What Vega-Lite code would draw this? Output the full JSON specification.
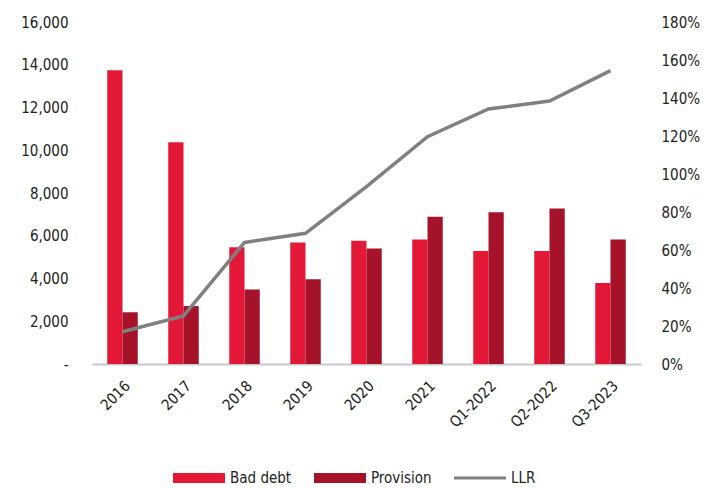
{
  "$schema": "https://vega.github.io/schema/vega-lite/v6.json",
  "autosize": "none",
  "width": 549,
  "height": 342,
  "padding": {"left": 92, "top": 22, "right": 75, "bottom": 124},
  "background": "white",
  "config": {
    "view": {"stroke": null},
    "font": "DejaVu Sans Condensed, Liberation Sans, sans-serif",
    "axis": {"labelFont": "DejaVu Sans Condensed, Liberation Sans, sans-serif", "labelFontSize": 15, "labelColor": "#222222", "grid": false, "ticks": false, "domain": false, "title": null}
  },
  "data": {
    "values": [
      {"cat": "2016", "series": "Bad debt", "value": 13740},
      {"cat": "2016", "series": "Provision", "value": 2420},
      {"cat": "2016", "series": "LLR", "value": 0.17},
      {"cat": "2017", "series": "Bad debt", "value": 10370},
      {"cat": "2017", "series": "Provision", "value": 2710},
      {"cat": "2017", "series": "LLR", "value": 0.253},
      {"cat": "2018", "series": "Bad debt", "value": 5460},
      {"cat": "2018", "series": "Provision", "value": 3490},
      {"cat": "2018", "series": "LLR", "value": 0.64},
      {"cat": "2019", "series": "Bad debt", "value": 5690},
      {"cat": "2019", "series": "Provision", "value": 3960},
      {"cat": "2019", "series": "LLR", "value": 0.688},
      {"cat": "2020", "series": "Bad debt", "value": 5770},
      {"cat": "2020", "series": "Provision", "value": 5400},
      {"cat": "2020", "series": "LLR", "value": 0.934},
      {"cat": "2021", "series": "Bad debt", "value": 5820},
      {"cat": "2021", "series": "Provision", "value": 6890},
      {"cat": "2021", "series": "LLR", "value": 1.196},
      {"cat": "Q1-2022", "series": "Bad debt", "value": 5290},
      {"cat": "Q1-2022", "series": "Provision", "value": 7100},
      {"cat": "Q1-2022", "series": "LLR", "value": 1.342},
      {"cat": "Q2-2022", "series": "Bad debt", "value": 5290},
      {"cat": "Q2-2022", "series": "Provision", "value": 7270},
      {"cat": "Q2-2022", "series": "LLR", "value": 1.384},
      {"cat": "Q3-2023", "series": "Bad debt", "value": 3790},
      {"cat": "Q3-2023", "series": "Provision", "value": 5820},
      {"cat": "Q3-2023", "series": "LLR", "value": 1.544}
    ]
  },
  "encoding": {
    "x": {
      "field": "cat", "type": "nominal", "sort": null,
      "scale": {"paddingInner": 0.5, "paddingOuter": 0.25},
      "axis": {"labelAngle": -45, "labelPadding": 14, "domain": true, "domainColor": "#c8c8c8", "domainWidth": 2}
    }
  },
  "layer": [
    {
      "transform": [{"filter": "datum.series !== 'LLR'"}],
      "mark": {"type": "bar"},
      "encoding": {
        "xOffset": {"field": "series", "type": "nominal", "sort": ["Bad debt", "Provision"], "scale": {"paddingInner": 0, "paddingOuter": 0}},
        "y": {
          "field": "value", "type": "quantitative",
          "scale": {"domain": [0, 16000], "nice": false},
          "axis": {"values": [0, 2000, 4000, 6000, 8000, 10000, 12000, 14000, 16000], "labelExpr": "datum.value === 0 ? '-' : format(datum.value, ',')", "labelPadding": 24}
        },
        "color": {
          "field": "series", "type": "nominal",
          "scale": {"domain": ["Bad debt", "Provision", "LLR"], "range": ["#E31837", "#A5122A", "#808080"]},
          "legend": {
            "orient": "none", "legendX": 81, "legendY": 430, "direction": "horizontal", "title": null,
            "symbolSize": 2704, "symbolType": "M-1,-0.19H1V0.19H-1Z",
            "labelFont": "DejaVu Sans Condensed, Liberation Sans, sans-serif", "labelFontSize": 15, "labelColor": "#222222", "labelOffset": 5, "columnPadding": 22, "padding": 0,
            "encode": {
              "symbols": {
                "update": {
                  "shape": {"signal": "datum.value === 'LLR' ? 'M-1,-0.06H1V0.06H-1Z' : 'M-1,-0.19H1V0.19H-1Z'"},
                  "fill": {"scale": "color", "field": "value"},
                  "strokeWidth": {"value": 0},
                  "opacity": {"value": 1}
                }
              }
            }
          }
        }
      }
    },
    {
      "transform": [{"filter": "datum.series === 'LLR'"}],
      "mark": {"type": "line", "strokeWidth": 3.5},
      "encoding": {
        "y": {
          "field": "value", "type": "quantitative",
          "scale": {"domain": [0, 1.8], "nice": false},
          "axis": {"orient": "right", "values": [0, 0.2, 0.4, 0.6, 0.8, 1.0, 1.2, 1.4, 1.6, 1.8], "format": ".0%", "labelPadding": 20}
        },
        "color": {"field": "series", "type": "nominal"}
      }
    }
  ],
  "resolve": {"scale": {"y": "independent"}}
}
